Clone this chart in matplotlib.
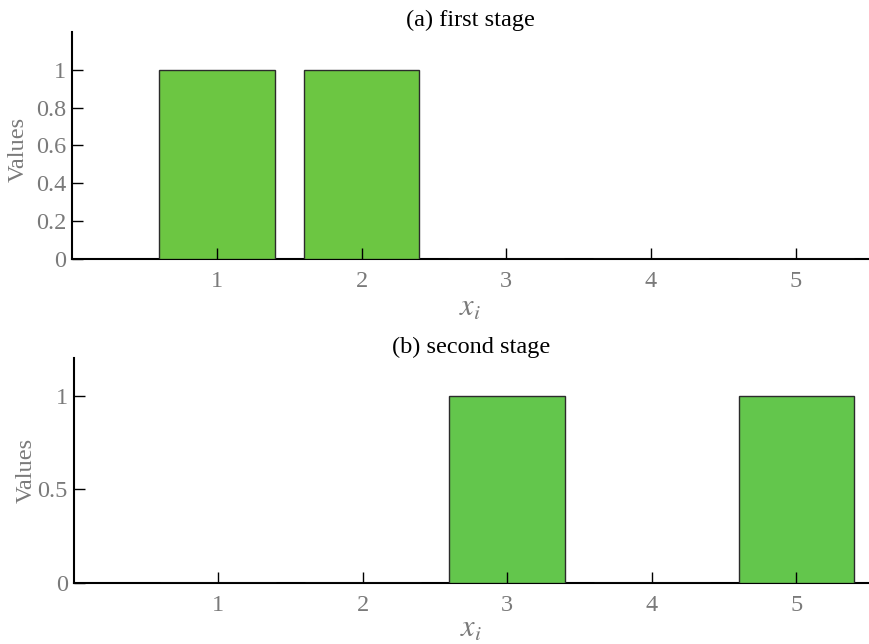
import matplotlib
matplotlib.use("Agg")
import matplotlib.pyplot as plt

plt.rcParams['font.family'] = ['Liberation Serif', 'DejaVu Serif']
plt.rcParams['mathtext.fontset'] = 'stix'

categories = [1, 2, 3, 4, 5]
first_stage = [1, 1, 0, 0, 0]
second_stage = [0, 0, 1, 0, 1]
titles = ['(a) first stage', '(b) second stage']
top_ticks = [0, 0.2, 0.4, 0.6, 0.8, 1]
bottom_ticks = [0, 0.5, 1]

gray = '#7a7a7a'

fig = plt.figure(figsize=(8.7, 6.44), dpi=100)
ax1 = fig.add_axes([0.0828, 0.598, 0.915, 0.3525])
ax2 = fig.add_axes([0.0845, 0.0952, 0.914, 0.3486])

panels = [
    (ax1, first_stage, '#6cc642', top_ticks, ['0', '0.2', '0.4', '0.6', '0.8', '1']),
    (ax2, second_stage, '#63c64c', bottom_ticks, ['0', '0.5', '1']),
]

for i, (ax, vals, color, yt, ylabels) in enumerate(panels):
    ax.bar(categories, vals, width=0.8, color=color, edgecolor='#2b2b2b',
           linewidth=1.0, zorder=1)
    ax.set_xlim(0, 5.5)
    ax.set_ylim(0, 1.2)
    ax.set_xticks(categories)
    ax.set_yticks(yt)
    ax.set_yticklabels(ylabels)
    ax.spines['top'].set_visible(False)
    ax.spines['right'].set_visible(False)
    for s in ('left', 'bottom'):
        ax.spines[s].set_linewidth(1.5)
        ax.spines[s].set_zorder(0)
    ax.tick_params(direction='in', length=8, width=1, color='black',
                   labelcolor=gray, labelsize=17.5)
    ax.tick_params(axis='y', pad=4)
    ax.tick_params(axis='x', pad=9)
    ax.set_ylabel('Values', color=gray, fontsize=17.5)
    ax.set_xlabel('$x_i$', color=gray, fontsize=22)
    ax.set_title(titles[i], fontsize=17.5, pad=4)

ax1.yaxis.set_label_coords(-0.055, 0.48)
ax2.yaxis.set_label_coords(-0.046, 0.5)
ax1.xaxis.set_label_coords(0.50, -0.155)
ax2.xaxis.set_label_coords(0.50, -0.143)

fig.savefig('out.png', dpi=100)
